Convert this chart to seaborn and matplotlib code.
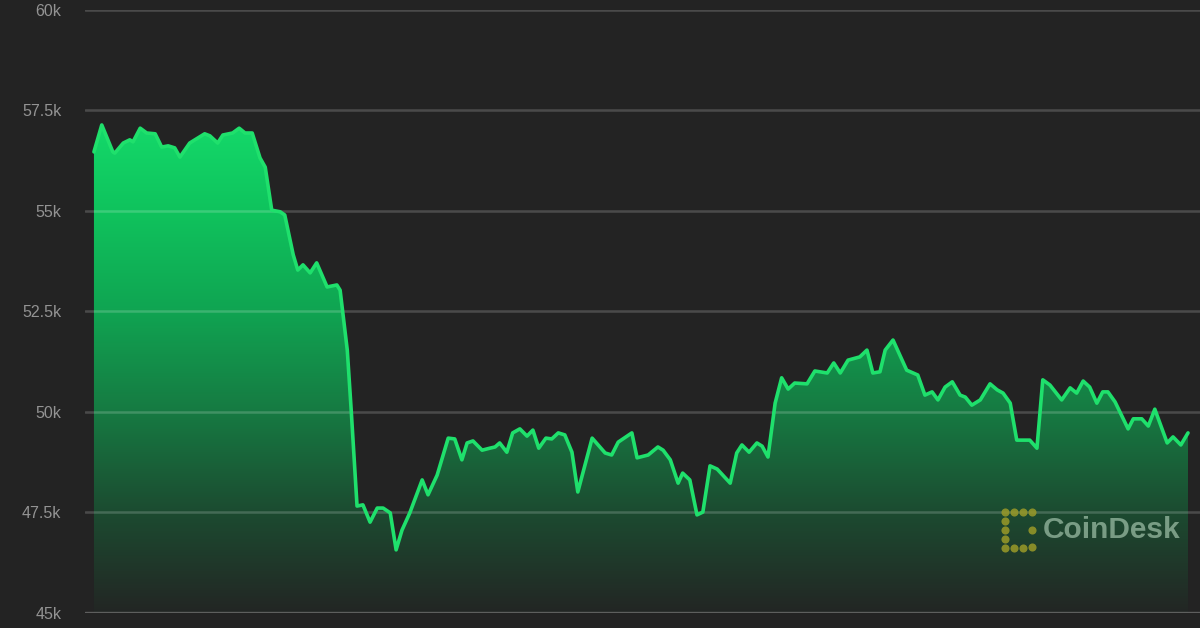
import numpy as np
import pandas as pd
import matplotlib.pyplot as plt
import seaborn as sns
from matplotlib.colors import LinearSegmentedColormap

# hours since start of the week, price in thousands of USD
hours = [0, 1.2, 2.9, 3.2, 4.5, 5.5, 6.0, 7.1, 8.1, 9.4, 10.4, 11.4, 12.4, 13.2, 14.7,
         17.0, 17.8, 19.0, 19.8, 21.3, 22.3, 23.2, 24.3, 25.5, 26.3, 27.3, 28.6, 29.3,
         30.6, 31.3, 32.1, 33.2, 34.2, 35.8, 37.3, 37.8, 38.9, 39.5, 40.4, 41.3, 42.4,
         43.5, 44.4, 45.5, 46.4, 47.3, 48.5, 50.4, 51.3, 52.7, 54.4, 55.4, 56.5, 57.3,
         58.2, 59.6, 60.8, 61.6, 62.3, 63.4, 64.3, 65.4, 66.5, 67.4, 68.3, 69.4, 70.3,
         71.3, 72.3, 73.4, 74.3, 76.5, 78.5, 79.5, 80.5, 82.6, 83.4, 85.1, 86.6, 87.4,
         88.5, 89.7, 90.4, 91.5, 92.6, 93.5, 94.6, 95.7, 97.7, 98.7, 99.5, 100.6, 101.8,
         102.6, 103.5, 104.6, 105.6, 106.6, 107.6, 109.5, 110.7, 112.6, 113.6, 114.6,
         115.8, 117.6, 118.7, 119.6, 120.7, 121.5, 122.7, 124.8, 126.5, 127.6, 128.7,
         129.6, 130.7, 131.8, 133.0, 133.8, 134.8, 136.1, 137.6, 138.7, 139.6, 140.7,
         141.7, 143.7, 144.8, 145.7, 146.8, 148.6, 149.9, 150.9, 151.9, 152.9, 154.0,
         154.9, 155.7, 156.8, 158.8, 159.6, 160.9, 161.9, 162.9, 164.8, 165.7, 166.9, 168.0]

price_k = [56.47, 57.14, 56.47, 56.44, 56.69, 56.77, 56.72, 57.06, 56.94, 56.92, 56.59,
           56.62, 56.57, 56.34, 56.69, 56.92, 56.87, 56.69, 56.89, 56.94, 57.06, 56.94,
           56.94, 56.32, 56.09, 55.02, 54.98, 54.90, 53.91, 53.53, 53.66, 53.46, 53.71,
           53.11, 53.16, 53.03, 51.54, 50.05, 47.66, 47.69, 47.26, 47.61, 47.61, 47.49,
           46.57, 47.06, 47.49, 48.31, 47.94, 48.43, 49.35, 49.33, 48.81, 49.23, 49.28,
           49.05, 49.10, 49.13, 49.23, 49.00, 49.48, 49.58, 49.40, 49.55, 49.10, 49.35,
           49.33, 49.48, 49.43, 49.00, 48.01, 49.35, 48.98, 48.93, 49.25, 49.48, 48.86,
           48.93, 49.13, 49.05, 48.81, 48.23, 48.48, 48.31, 47.44, 47.51, 48.66, 48.58,
           48.23, 48.98, 49.18, 49.00, 49.23, 49.15, 48.88, 50.22, 50.85, 50.57, 50.72,
           50.70, 51.02, 50.97, 51.22, 50.97, 51.29, 51.37, 51.54, 50.97, 51.00, 51.54,
           51.79, 51.04, 50.92, 50.42, 50.50, 50.30, 50.62, 50.75, 50.42, 50.37, 50.17,
           50.30, 50.70, 50.55, 50.47, 50.22, 49.30, 49.30, 49.10, 50.80, 50.67, 50.30,
           50.60, 50.47, 50.77, 50.62, 50.22, 50.50, 50.50, 50.25, 49.58, 49.83, 49.83,
           49.65, 50.07, 49.23, 49.38, 49.18, 49.48]

y_ticks = [45, 47.5, 50, 52.5, 55, 57.5, 60]
y_tick_labels = ['45k', '47.5k', '50k', '52.5k', '55k', '57.5k', '60k']

df = pd.DataFrame({'hour': hours, 'price': price_k})

bg = '#232323'
sns.set_theme(style='dark', rc={'figure.facecolor': bg, 'axes.facecolor': bg})
plt.rcParams['font.family'] = ['Liberation Sans', 'DejaVu Sans']

fig = plt.figure(figsize=(12, 6.28), dpi=100)
ax = fig.add_axes([0.0708, 0.0239, 0.9292, 0.9602])

ymin, ymax = 45, 60
xmin, xmax = -1.38, 169.84

# gradient area under the line
fill = ax.fill_between(df['hour'], df['price'], ymin, color='none', lw=0)
grad_cmap = LinearSegmentedColormap.from_list(
    'grad', [(0.0, '#232624'), (0.2, '#1c4a30'), (0.41, '#167a42'),
             (0.62, '#10a552'), (0.82, '#0fc35d'), (1.0, '#14d96a')])
grad = np.linspace(0, 1, 256).reshape(-1, 1)
img = ax.imshow(grad, cmap=grad_cmap, origin='lower', aspect='auto',
                extent=[xmin, xmax, ymin, 57.2], zorder=1)
img.set_clip_path(fill.get_paths()[0], transform=ax.transData)

# gridlines drawn over the fill
for t in y_ticks:
    lw = 2.4 if t == ymin else 1.8
    a = 0.27 if t == ymin else 0.18
    ax.axhline(t, color='white', alpha=a, lw=lw, zorder=2)

sns.lineplot(data=df, x='hour', y='price', ax=ax, color='#1fe06c', lw=2.6,
             zorder=3, estimator=None, sort=False)

ax.set_xlim(xmin, xmax)
ax.set_ylim(ymin, ymax)
ax.set_yticks(y_ticks)
ax.set_yticklabels(y_tick_labels)
ax.set_xticks([])
ax.set_xlabel('')
ax.set_ylabel('')
ax.grid(False)
ax.tick_params(axis='y', length=0, pad=17, labelsize=11.5, labelcolor='#939393')
for s in ax.spines.values():
    s.set_visible(False)

# CoinDesk watermark
logo_x = [0.825, 0.825, 0.825, 0.825, 0.825, 0.833, 0.841, 0.849, 0.833, 0.841, 0.849, 0.849]
logo_y = [0.167, 0.152, 0.137, 0.122, 0.107, 0.167, 0.167, 0.167, 0.107, 0.107, 0.137, 0.110]
ax.scatter(logo_x, logo_y, s=34, color='#9a9a28', alpha=0.85, transform=ax.transAxes,
           zorder=4, linewidths=0)
ax.text(0.859, 0.138, 'CoinDesk', transform=ax.transAxes, fontsize=21.5, fontweight='bold',
        color='#b8d8c0', alpha=0.6, va='center', ha='left', zorder=4)

fig.savefig('out.png', dpi=100, facecolor=bg)
